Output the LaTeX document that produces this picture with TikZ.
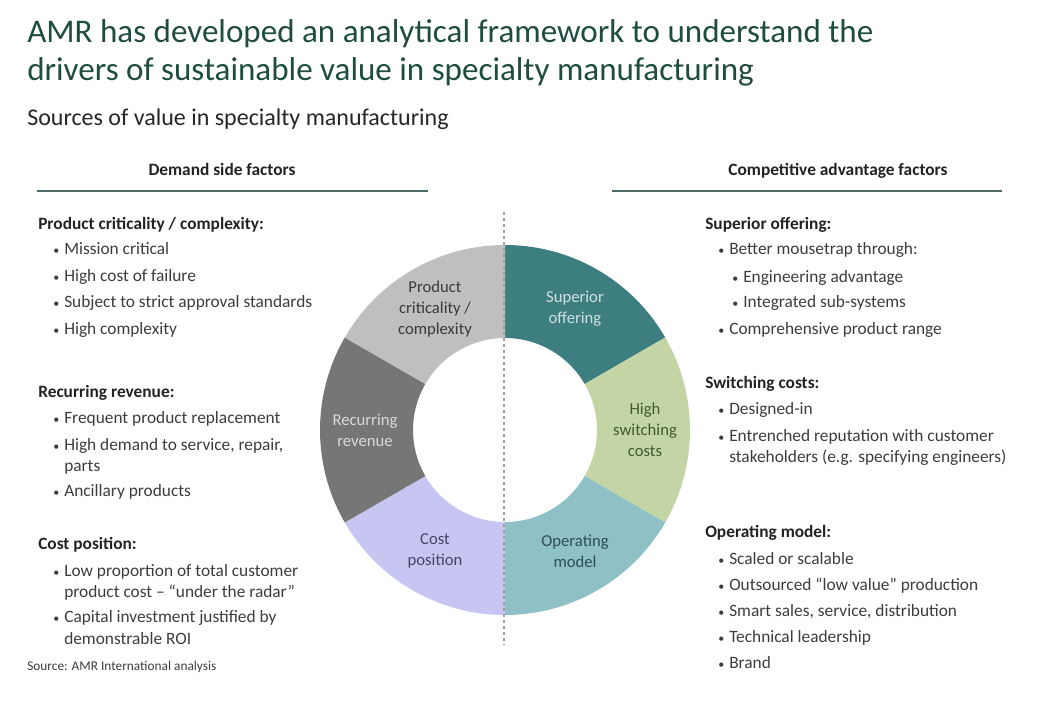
\documentclass[tikz,border=0pt]{standalone}
\usepackage{fontspec}
\setmainfont{Carlito}
\usetikzlibrary{positioning}

% colours
\definecolor{titlegreen}{HTML}{1E4D3F}
\definecolor{rulegray}{HTML}{4E6868}
\definecolor{bodygray}{HTML}{3C3C3C}
\definecolor{headblack}{HTML}{222222}
\definecolor{supcol}{HTML}{3D7E80}
\definecolor{suptxt}{HTML}{CFE0E0}
\definecolor{swcol}{HTML}{C4D5A5}
\definecolor{swtxt}{HTML}{3F5A2E}
\definecolor{opcol}{HTML}{8EC0C6}
\definecolor{optxt}{HTML}{2F4F55}
\definecolor{costcol}{HTML}{C7C6F2}
\definecolor{costtxt}{HTML}{45456A}
\definecolor{reccol}{HTML}{767676}
\definecolor{rectxt}{HTML}{DADADA}
\definecolor{prodcol}{HTML}{BFBFBF}
\definecolor{prodtxt}{HTML}{3A3A3A}

\newcommand{\bul}{\makebox[8.25pt][l]{\fontsize{9}{9}\selectfont\textbullet}}

\tikzset{
  titletext/.style={anchor=base west, inner sep=0pt, text=titlegreen,
    font=\fontsize{24.8}{28}\selectfont},
  subtitle/.style={anchor=base west, inner sep=0pt, text=black!85,
    font=\fontsize{18}{21}\selectfont},
  colhead/.style={anchor=base, inner sep=0pt, text=headblack,
    font=\fontsize{13}{15}\selectfont\bfseries},
  headrule/.style={draw=rulegray, line width=1.9pt},
  itemhead/.style={anchor=base west, inner sep=0pt, text=headblack,
    font=\fontsize{13}{15}\selectfont\bfseries},
  itemtext/.style={anchor=base west, inner sep=0pt, text=bodygray,
    font=\fontsize{13}{15}\selectfont},
  seglabel/.style={align=center, inner sep=0pt,
    font=\fontsize{12.5}{15.75}\selectfont},
  divider/.style={draw=gray!75, line width=0.8pt, dash pattern=on 2.5pt off 2pt}
}

\begin{document}
\begin{tikzpicture}[x=0.75pt, y=-0.75pt]
\useasboundingbox (0,0) rectangle (1054,714);

    % --- Titles ---
    \node[titletext] (title1) at (27,42) {AMR has developed an analytical framework to understand the};
    \node[titletext] (title2) at (27,80) {drivers of sustainable value in specialty manufacturing};
    \node[subtitle] (subtitle) at (27,125) {Sources of value in specialty manufacturing};

    % --- Column headers ---
    \node[colhead] (demandhead) at (222,175) {Demand side factors};
    \node[colhead] (comphead) at (838,175) {Competitive advantage factors};
    \coordinate (dl1) at (37,191);
    \coordinate (dl2) at (428,191);
    \coordinate (cl1) at (612,191);
    \coordinate (cl2) at (1002,191);
    \draw[headrule] (dl1) -- (dl2);
    \draw[headrule] (cl1) -- (cl2);

    % --- The ring ---
    \begin{scope}[shift={(505,430)}, y=0.75pt]
      \foreach \a/\col/\tcol/\lbl [count=\i, evaluate=\a as \b using \a-60,
                                   evaluate=\a as \m using \a-30] in
        {90/supcol/suptxt/{Superior\\offering},
         30/swcol/swtxt/{High\\switching\\costs},
         -30/opcol/optxt/{Operating\\model},
         -90/costcol/costtxt/{Cost\\position},
         -150/reccol/rectxt/{Recurring\\revenue},
         150/prodcol/prodtxt/{Product\\criticality /\\complexity}}
      {
        \fill[\col] (\a:185) arc[start angle=\a, end angle=\b, radius=185]
          -- (\b:92) arc[start angle=\b, end angle=\a, radius=92] -- cycle;
        \node[seglabel, text=\tcol] (seg\i) at (\m:140) {\lbl};
      }
    \end{scope}

    % dashed divider
    \coordinate (divtop) at (504,212);
    \coordinate (divbot) at (504,645);
    \draw[divider] (divtop) -- (divbot);

    % --- Demand side ---
    \node[itemhead] (pchead) at (38,229) {Product criticality / complexity:};
    \foreach \y/\txt [count=\i] in {254/Mission critical, 281/High cost of failure,
        307/Subject to strict approval standards, 334/High complexity}
      \node[itemtext] (pc\i) at (53,\y) {\bul\txt};

    \node[itemhead] (rrhead) at (38,397) {Recurring revenue:};
    \node[itemtext] (rr1) at (53,423) {\bul Frequent product replacement};
    \node[itemtext] (rr2) at (53,450) {\bul High demand to service, repair,};
    \node[itemtext] (rr2b) at (64,471) {parts};
    \node[itemtext] (rr3) at (53,496) {\bul Ancillary products};

    \node[itemhead] (cphead) at (38,549) {Cost position:};
    \node[itemtext] (cp1) at (53,576) {\bul Low proportion of total customer};
    \node[itemtext] (cp1b) at (64,597) {product cost -- ``under the radar''};
    \node[itemtext] (cp2) at (53,622) {\bul Capital investment justified by};
    \node[itemtext] (cp2b) at (64,644) {demonstrable ROI};

    \node[anchor=base west, inner sep=0pt, text=bodygray,
      font=\fontsize{10}{11}\selectfont] (source) at (27,670) {Source: AMR International analysis};

    % --- Competitive advantage side ---
    \node[itemhead] (sohead) at (705,229) {Superior offering:};
    \node[itemtext] (so1) at (718,254) {\bul Better mousetrap through:};
    \node[itemtext] (so1a) at (732,282) {\bul Engineering advantage};
    \node[itemtext] (so1b) at (732,307) {\bul Integrated sub-systems};
    \node[itemtext] (so2) at (718,334) {\bul Comprehensive product range};

    \node[itemhead] (schead) at (705,388) {Switching costs:};
    \node[itemtext] (sc1) at (718,414) {\bul Designed-in};
    \node[itemtext] (sc2) at (718,441) {\bul Entrenched reputation with customer};
    \node[itemtext] (sc2b) at (729,462) {stakeholders (e.g. specifying engineers)};

    \node[itemhead] (omhead) at (705,537) {Operating model:};
    \foreach \y/\txt [count=\i] in {564/Scaled or scalable,
        590/Outsourced ``low value'' production,
        616/{Smart sales, service, distribution},
        642/Technical leadership, 668/Brand}
      \node[itemtext] (om\i) at (718,\y) {\bul\txt};

\end{tikzpicture}
\end{document}
